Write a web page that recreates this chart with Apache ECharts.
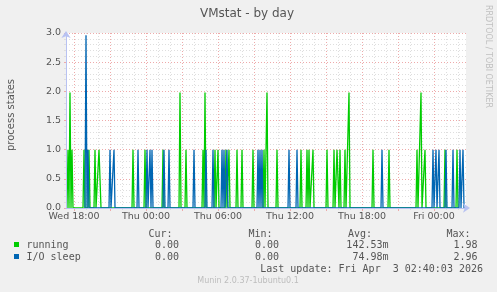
<!DOCTYPE html>
<html><head><meta charset="utf-8">
<script src="https://cdn.jsdelivr.net/npm/echarts@6/dist/echarts.min.js"></script>
<style>html,body{margin:0;padding:0;background:#f0f0f0;}#c{width:497px;height:292px;}</style>
</head><body><div id="c"></div>
<script>
// ---- data ----
const runningTimes = ["Wed 17:30","Wed 17:40","Wed 17:50","Wed 18:50","Wed 19:15","Wed 19:45","Wed 20:05","Wed 20:10",
  "Wed 22:55","Wed 23:55","Thu 01:25","Thu 02:50","Thu 03:20","Thu 04:45","Thu 04:55","Thu 05:45","Thu 06:00",
  "Thu 06:40","Thu 06:55","Thu 07:35","Thu 08:00","Thu 08:55","Thu 09:50","Thu 10:05","Thu 10:55","Thu 12:55",
  "Thu 13:25","Thu 13:35","Thu 13:55","Thu 15:05","Thu 15:40","Thu 15:55","Thu 16:00","Thu 16:10","Thu 16:35",
  "Thu 16:55","Thu 18:55","Thu 20:15","Thu 22:35","Thu 22:55","Thu 23:15","Fri 00:55","Fri 01:55"];
const runningValues = [1,1.98,1,1,1,1,1,1,
  1,1,1,1.98,1,1,1.98,1,1,
  1,1,1,1,1,1,1.98,1,1,
  1,1,1,1,1,1,1,1,1,
  1.98,1,1,1,1.98,1,1,1];
const sleepTimes = ["Wed 19:00","Wed 19:10","Wed 21:00","Wed 21:20","Wed 23:20","Thu 00:05","Thu 00:20","Thu 00:30",
  "Thu 01:30","Thu 01:55","Thu 04:00","Thu 05:00","Thu 05:35","Thu 06:20","Thu 06:30","Thu 06:45","Thu 09:20",
  "Thu 09:30","Thu 09:40","Thu 11:55","Thu 12:35","Thu 19:40","Thu 23:55","Fri 00:10","Fri 00:25","Fri 01:00",
  "Fri 01:35","Fri 02:10","Fri 02:25"];
const sleepValues = [2.96,1,1,1,1,1,1,1,
  1,1,1,1,1,1,1,1,1,
  1,1,1,1,1,1,1,1,1,
  1,1,1];
const xTickHours = [18,24,30,36,42,48];
const xTickLabels = ["Wed 18:00","Thu 00:00","Thu 06:00","Thu 12:00","Thu 18:00","Fri 00:00"];
const xMajorHours = [18,21,24,27,30,33,36,39,42,45,48];
const xMinorHours = [18,19,20,21,22,23,24,25,26,27,28,29,30,31,32,33,34,35,36,37,38,39,40,41,42,43,44,45,46,47,48,49,50];
const legendNames = ["running","I/O sleep"];
const legendColors = ["#00cc00","#0066b3"];
const curValues = ["0.00","0.00"];
const minValues = ["0.00","0.00"];
const avgValues = ["142.53m","74.98m"];
const maxValues = ["1.98","2.96"];
const lastUpdate = "Last update: Fri Apr  3 02:40:03 2026";

// ---- helpers ----
const DAY = {Wed:0, Thu:24, Fri:48};
const X_MIN = 17 + 20/60, X_MAX = 50 + 40/60; // Wed 17:20 .. Fri 02:40
const STEP = 5/60;
function toHours(s){ const [d,hm]=s.split(' '); const [h,m]=hm.split(':').map(Number); return DAY[d]+h+m/60; }
function spikeData(times, vals){
  const pts = new Map();
  times.forEach((t,i)=>pts.set(Math.round(toHours(t)/STEP), vals[i]));
  const keys=[...pts.keys()];
  keys.forEach(k=>[k-1,k+1].forEach(n=>{ if(!pts.has(n)) pts.set(n,0); }));
  return [...pts.entries()].sort((a,b)=>a[0]-b[0]).map(([k,v])=>[k*STEP,v]);
}

const FONT='DejaVu Sans', MONO='DejaVu Sans Mono', TXT='#555';
const AXIS='#b8c2f2', MINOR='#dedede', MAJOR='#eeaaaa';

const chart = echarts.init(document.getElementById('c'), null, {renderer:'canvas'});
const graphic = [
  {type:'text', x:247, y:14, style:{text:'VMstat - by day', font:'12px '+FONT, fill:TXT, align:'center', verticalAlign:'middle'}},
  {type:'text', x:11, y:115, rotation:Math.PI/2, style:{text:'process states', font:'10px '+FONT, fill:TXT, align:'center', verticalAlign:'middle'}},
  {type:'text', x:488, y:5, rotation:-Math.PI/2, style:{text:'RRDTOOL / TOBI OETIKER', font:'8px '+FONT, fill:'#c0c0c0', align:'left', verticalAlign:'middle'}},
  {type:'text', x:248, y:281, style:{text:'Munin 2.0.37-1ubuntu0.1', font:'8px '+FONT, fill:'#bdbdbd', align:'center', verticalAlign:'middle'}},
  {type:'text', x:148.5, y:234, style:{text:'Cur:', font:'10px '+MONO, fill:TXT, verticalAlign:'middle'}},
  {type:'text', x:248.5, y:234, style:{text:'Min:', font:'10px '+MONO, fill:TXT, verticalAlign:'middle'}},
  {type:'text', x:348, y:234, style:{text:'Avg:', font:'10px '+MONO, fill:TXT, verticalAlign:'middle'}},
  {type:'text', x:446.5, y:234, style:{text:'Max:', font:'10px '+MONO, fill:TXT, verticalAlign:'middle'}},
  {type:'text', x:483, y:269.5, style:{text:lastUpdate, font:'10px '+MONO, fill:TXT, align:'right', verticalAlign:'middle'}}
];
legendNames.forEach((n,i)=>{
  const y = 245 + i*12;
  graphic.push({type:'rect', shape:{x:14, y:y-3, width:5, height:5}, style:{fill:legendColors[i]}});
  graphic.push({type:'text', x:26.5, y:y, style:{text:n, font:'10px '+MONO, fill:TXT, verticalAlign:'middle'}});
  graphic.push({type:'text', x:179, y:y, style:{text:curValues[i], font:'10px '+MONO, fill:TXT, align:'right', verticalAlign:'middle'}});
  graphic.push({type:'text', x:279, y:y, style:{text:minValues[i], font:'10px '+MONO, fill:TXT, align:'right', verticalAlign:'middle'}});
  graphic.push({type:'text', x:388.5, y:y, style:{text:avgValues[i], font:'10px '+MONO, fill:TXT, align:'right', verticalAlign:'middle'}});
  graphic.push({type:'text', x:477.5, y:y, style:{text:maxValues[i], font:'10px '+MONO, fill:TXT, align:'right', verticalAlign:'middle'}});
});

const dotted = [1,2];
chart.setOption({
  animation:false,
  backgroundColor:'#f0f0f0',
  grid:{left:66, top:33, width:400, height:175, show:true, backgroundColor:'#ffffff', borderWidth:0},
  xAxis:[
    {type:'value', min:X_MIN, max:X_MAX, position:'bottom',
     axisLine:{show:false}, axisLabel:{show:false},
     axisTick:{show:true, customValues:xMinorHours, length:2, lineStyle:{color:MINOR}},
     splitLine:{show:true, lineStyle:{color:MINOR, type:dotted, width:1}}},
    {type:'value', min:X_MIN, max:X_MAX, position:'bottom',
     axisLine:{show:false},
     axisTick:{show:true, customValues:xMajorHours, length:3, lineStyle:{color:MAJOR}},
     axisLabel:{show:true, customValues:xTickHours, formatter:v=>xTickLabels[xTickHours.indexOf(Math.round(v))],
       fontFamily:FONT, fontSize:9.5, color:TXT, margin:4},
     splitLine:{show:true, lineStyle:{color:MAJOR, type:dotted, width:1}}},
    {type:'value', min:X_MIN, max:X_MAX, position:'bottom', z:10,
     axisLine:{show:true, lineStyle:{color:AXIS, width:1}, symbol:['none','arrow'], symbolSize:[7,7], symbolOffset:[0,4]},
     axisTick:{show:false}, axisLabel:{show:false}, splitLine:{show:false}}
  ],
  yAxis:[
    {type:'value', min:0, max:3, interval:0.5,
     axisLine:{show:false},
     axisTick:{show:true, length:2, lineStyle:{color:MAJOR}},
     minorTick:{show:true, splitNumber:5, length:2, lineStyle:{color:MINOR}},
     minorSplitLine:{show:true, lineStyle:{color:MINOR, type:dotted, width:1}},
     splitLine:{show:true, lineStyle:{color:MAJOR, type:dotted, width:1}},
     axisLabel:{formatter:v=>v.toFixed(1), fontFamily:FONT, fontSize:9.5, color:TXT, margin:5}},
    {type:'value', min:0, max:3, position:'left', z:10,
     axisLine:{show:true, lineStyle:{color:AXIS, width:1}, symbol:['none','arrow'], symbolSize:[7,7], symbolOffset:[0,2]},
     axisTick:{show:false}, axisLabel:{show:false}, splitLine:{show:false}}
  ],
  series:[
    {name:legendNames[0], type:'line', xAxisIndex:0, yAxisIndex:0, data:spikeData(runningTimes, runningValues),
     symbol:'none', lineStyle:{color:legendColors[0], width:1.3}, itemStyle:{color:legendColors[0]}, z:3},
    {name:legendNames[1], type:'line', xAxisIndex:0, yAxisIndex:0, data:spikeData(sleepTimes, sleepValues),
     symbol:'none', lineStyle:{color:legendColors[1], width:1.3}, itemStyle:{color:legendColors[1]}, z:4}
  ],
  graphic:graphic
});
</script>
</body></html>
